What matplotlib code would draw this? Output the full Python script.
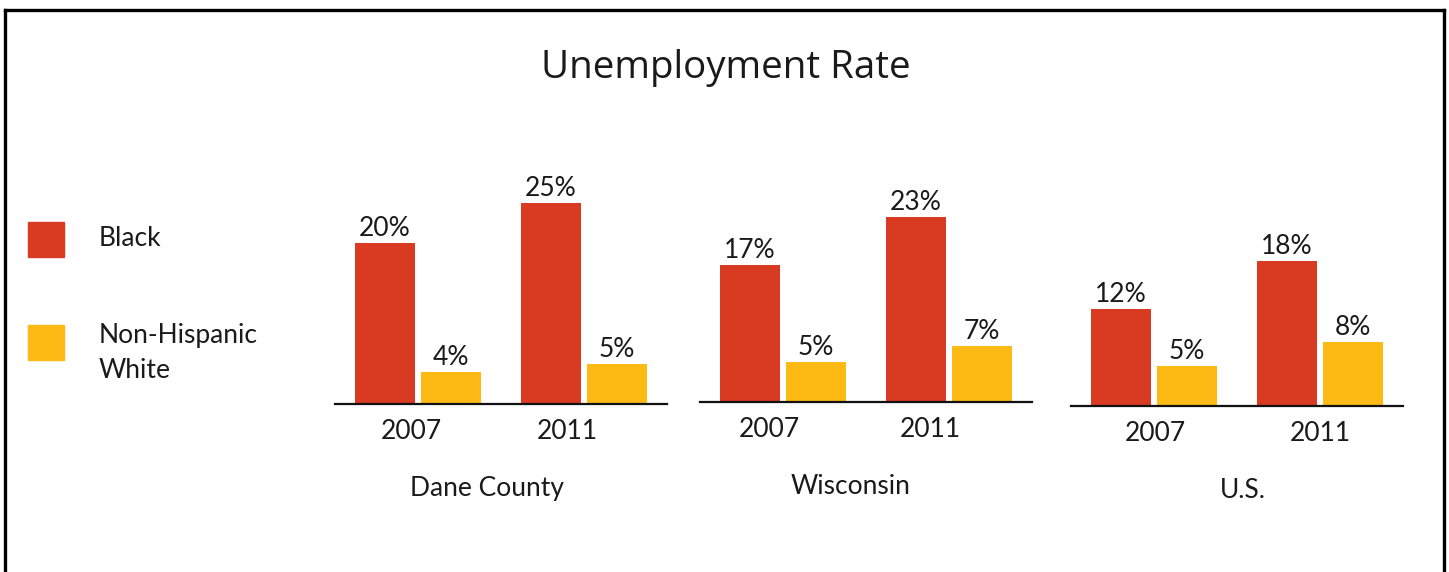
import matplotlib
matplotlib.use("Agg")
import matplotlib.pyplot as plt
from matplotlib.patches import Rectangle
from matplotlib.lines import Line2D

# data
regions = ["Dane County", "Wisconsin", "U.S."]
years = ["2007", "2011"]
black = [[20, 25], [17, 23], [12, 18]]
white = [[4, 5], [5, 7], [5, 8]]

red = "#D83B22"
yellow = "#FDB914"
txt = "#1a1a1a"
lab_font = "Lato"
fs = 19

W, H = 1449, 572
fig = plt.figure(figsize=(W / 100, H / 100), dpi=100)

# panel layout in pixels: left edge, baseline y
panel_left = [335, 700, 1071]
panel_base = [404, 402, 406]
panel_w = 332
px_per_pct = 8.05
ymax = 30
# small shifts of the year / region labels, as in the original
year_shift = [[-0.04, -0.1], [-0.08, -0.11], [0.01, 0.0]]
reg_shift = [-0.042, -0.048, 0.018]

off = 0.199
bw = 0.361
for i, reg in enumerate(regions):
    ax = fig.add_axes([panel_left[i] / W, (H - panel_base[i]) / H,
                       panel_w / W, ymax * px_per_pct / H])
    x = [0, 1]
    b1 = ax.bar([v - off for v in x], black[i], width=bw, color=red)
    b2 = ax.bar([v + off for v in x], white[i], width=bw, color=yellow)
    for bars in (b1, b2):
        for r in bars:
            ax.annotate(f"{r.get_height():g}%",
                        (r.get_x() + r.get_width() / 2, r.get_height()),
                        xytext=(0, 1.5), textcoords="offset points",
                        ha="center", va="bottom", fontsize=fs,
                        family=lab_font, color=txt)
    ax.set_xlim(-0.5, 1.5)
    ax.set_ylim(0, ymax)
    ax.set_xticks([v + s for v, s in zip(x, year_shift[i])])
    ax.set_xticklabels(years, fontsize=fs, family=lab_font, color=txt)
    ax.tick_params(axis="x", length=0, pad=11)
    ax.set_yticks([])
    for s in ["top", "left", "right"]:
        ax.spines[s].set_visible(False)
    ax.spines["bottom"].set_linewidth(1.6)
    ax.spines["bottom"].set_color("#111111")
    ax.text(0.5 + reg_shift[i], -0.35, reg, transform=ax.transAxes,
            ha="center", va="center", fontsize=fs, family=lab_font,
            color=txt)
    ax.patch.set_alpha(0)

fig.text(726 / W, 1 - 68 / H, "Unemployment Rate", ha="center",
         va="center", fontsize=27.7, family="Open Sans", color=txt)

# legend
fig.patches.append(Rectangle((28 / W, 1 - 257 / H), 36 / W, 35 / H,
                             color=red, transform=fig.transFigure))
fig.patches.append(Rectangle((28 / W, 1 - 360 / H), 36 / W, 35 / H,
                             color=yellow, transform=fig.transFigure))
fig.text(99 / W, 1 - 239 / H, "Black", ha="left", va="center",
         fontsize=fs, family=lab_font, color=txt)
fig.text(99 / W, 1 - 353 / H, "Non-Hispanic\nWhite", ha="left", va="center",
         fontsize=fs, family=lab_font, color=txt, linespacing=1.55)

# frame
lw = 2.4
fig.lines.append(Line2D([5 / W, 5 / W], [0, 1 - 10 / H], color="black",
                        lw=lw, transform=fig.transFigure))
fig.lines.append(Line2D([5 / W, 1444 / W], [1 - 10 / H, 1 - 10 / H],
                        color="black", lw=lw, transform=fig.transFigure))
fig.lines.append(Line2D([1444 / W, 1444 / W], [0, 1 - 10 / H],
                        color="black", lw=lw, transform=fig.transFigure))

fig.savefig("out.png", dpi=100)
